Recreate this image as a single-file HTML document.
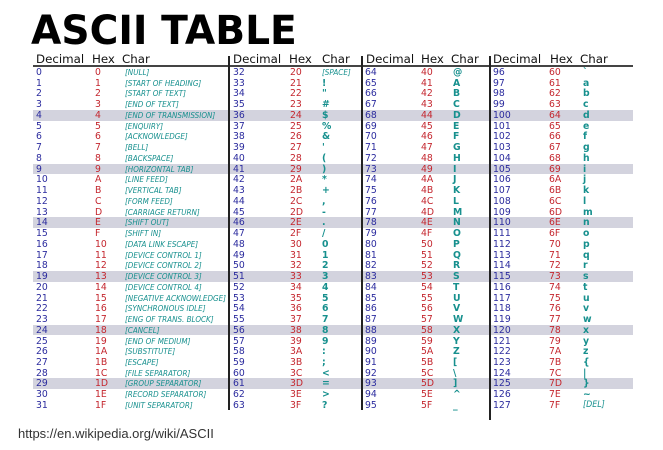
<!DOCTYPE html>
<html><head><meta charset="utf-8"><style>
body{margin:0;background:#fff;width:663px;height:450px;overflow:hidden;position:relative;font-family:"DejaVu Sans","Liberation Sans",sans-serif}
#title{position:absolute;left:31px;top:6px;font-size:40px;font-weight:bold;color:#000;line-height:50px;transform:scaleX(0.98);transform-origin:left}
.h{position:absolute;top:52px;font-size:11.8px;color:#111;line-height:14px}
.c{position:absolute;font-size:9.3px;line-height:11px;white-space:nowrap}
.d{color:#2b2b9e}.x{color:#c4262e}.ch{color:#17908e;font-weight:bold}
.ctl{color:#17908e;font-style:italic;font-size:8.2px;transform:scaleX(0.88);transform-origin:left}
.hl{position:absolute;left:33px;width:600px;height:10.7px;background:#d3d3de}
.vl{position:absolute;width:1.5px;background:#222}
#url{position:absolute;left:18px;top:426px;font-family:"Liberation Sans",sans-serif;font-size:13px;color:#333}
</style></head><body>
<div id="title">ASCII TABLE</div>
<div style="position:absolute;left:33px;top:65px;width:600px;height:1.5px;background:#444"></div>
<div id="url">https://en.wikipedia.org/wiki/ASCII</div>
<script>
const ctrlNames=["[NULL]","[START OF HEADING]","[START OF TEXT]","[END OF TEXT]","[END OF TRANSMISSION]","[ENQUIRY]","[ACKNOWLEDGE]","[BELL]","[BACKSPACE]","[HORIZONTAL TAB]","[LINE FEED]","[VERTICAL TAB]","[FORM FEED]","[CARRIAGE RETURN]","[SHIFT OUT]","[SHIFT IN]","[DATA LINK ESCAPE]","[DEVICE CONTROL 1]","[DEVICE CONTROL 2]","[DEVICE CONTROL 3]","[DEVICE CONTROL 4]","[NEGATIVE ACKNOWLEDGE]","[SYNCHRONOUS IDLE]","[ENG OF TRANS. BLOCK]","[CANCEL]","[END OF MEDIUM]","[SUBSTITUTE]","[ESCAPE]","[FILE SEPARATOR]","[GROUP SEPARATOR]","[RECORD SEPARATOR]","[UNIT SEPARATOR]"];
const groupX=[[36,95,125],[233,290,322],[365,421,453],[493,549,583]];
const headX=[[36,92,122],[233,289,322],[366,421,451],[493,550,580]];
const vlines=[[228,56,410],[361,56,410],[489,56,420]];
const top0=67,rh=10.74;
const B=document.body;
for(let r=4;r<32;r+=5){const e=document.createElement('div');e.className='hl';e.style.top=(top0+r*rh)+'px';


B.appendChild(e);}
vlines.forEach(v=>{const e=document.createElement('div');e.className='vl';e.style.left=v[0]+'px';e.style.top=v[1]+'px';e.style.height=(v[2]-v[1])+'px';


B.appendChild(e);});
headX.forEach(g=>{["Decimal","Hex","Char"].forEach((t,i)=>{const e=document.createElement('div');e.className='h';e.style.left=g[i]+'px';e.textContent=t;


B.appendChild(e);});});
for(let g=0;g<4;g++)for(let r=0;r<32;r++){const n=g*32+r;const y=top0+r*rh;
const d=document.createElement('div');d.className='c d';d.style.left=groupX[g][0]+'px';d.style.top=y+'px';d.textContent=n;


B.appendChild(d);
const h=document.createElement('div');h.className='c x';h.style.left=groupX[g][1]+'px';h.style.top=y+'px';h.textContent=n.toString(16).toUpperCase();


B.appendChild(h);
const c=document.createElement('div');c.style.left=groupX[g][2]+'px';c.style.top=y+'px';
if(n<32){c.className='c ctl';c.textContent=ctrlNames[n];}
else if(n==32){c.className='c ctl';c.textContent='[SPACE]';}
else if(n==127){c.className='c ctl';c.style.fontSize='9px';c.textContent='[DEL]';}
else{c.className='c ch';c.textContent=String.fromCharCode(n);}


B.appendChild(c);}
</script>
</body></html>
